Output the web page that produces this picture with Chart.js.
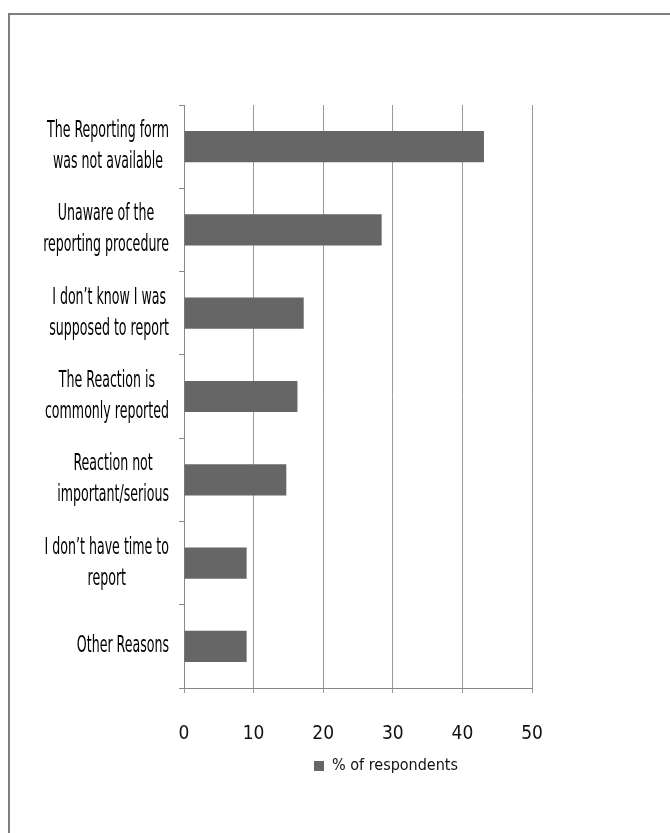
<!DOCTYPE html>
<html><head><meta charset="utf-8">
<script src="https://cdn.jsdelivr.net/npm/chart.js@4/dist/chart.umd.min.js"></script>
<style>
html,body{margin:0;padding:0;background:#fff;overflow:hidden;}
#wrap{position:relative;width:670px;height:833px;}
#frame{position:absolute;left:8px;top:13px;right:-10px;bottom:-10px;border-top:2px solid #7f7f7f;border-left:2px solid #7f7f7f;pointer-events:none;}
canvas{position:absolute;left:0;top:0;}
</style></head><body>
<div id="wrap"><canvas id="c" width="670" height="833"></canvas><div id="frame"></div></div>
<script>
const categories = [
  ["The Reporting form", "was not available"],
  ["Unaware of the", "reporting procedure"],
  ["I don’t know I was", "supposed to report"],
  ["The Reaction is", "commonly reported"],
  ["Reaction not", "important/serious"],
  ["I don’t have time to", "report"],
  ["Other Reasons"]
];
const respondentsPct = [43.1, 28.4, 17.2, 16.3, 14.7, 9.0, 9.0];
const xTicks = [0, 10, 20, 30, 40, 50];
const seriesName = "% of respondents";

const FAMILY = '"Liberation Sans Narrow", "DejaVu Sans Condensed", "Liberation Sans", sans-serif';

const yLabelPlugin = {
  id: 'yLabels',
  afterDraw(chart) {
    const s = chart.scales.y, ctx = chart.ctx;
    ctx.save();
    ctx.font = '23px ' + FAMILY;
    ctx.fillStyle = '#000';
    ctx.textBaseline = 'middle';
    ctx.textAlign = 'center';
    const ref = ctx.measureText('The Reporting form').width;
    const sx = 122 / ref;
    const right = 169, lh = 31;
    categories.forEach((lines, i) => {
      const cy = s.getPixelForValue(i);
      const bw = Math.max(...lines.map(l => ctx.measureText(l).width)) * sx;
      const cx = right - bw / 2;
      lines.forEach((l, j) => {
        const y = cy + (j - (lines.length - 1) / 2) * lh;
        ctx.save(); ctx.translate(cx, y); ctx.scale(sx, 1); ctx.fillText(l, 0, 0); ctx.restore();
      });
    });
    ctx.restore();
  }
};

const legendShift = {
  id: 'legendShift',
  afterLayout(chart) {
    const lg = chart.legend;
    const w = lg.right - lg.left;
    const c = 386;
    lg.left = c - w / 2; lg.right = c + w / 2;
  }
};

new Chart(document.getElementById('c'), {
  type: 'bar',
  data: {
    labels: categories.map(c => c.join(' ')),
    datasets: [{
      label: seriesName,
      data: respondentsPct,
      backgroundColor: '#666666',
      borderWidth: 0,
      barPercentage: 0.375,
      categoryPercentage: 1
    }]
  },
  options: {
    responsive: false,
    animation: false,
    devicePixelRatio: 1,
    indexAxis: 'y',
    layout: { padding: { left: 0, right: 138, top: 105, bottom: 49 } },
    plugins: {
      legend: {
        position: 'bottom',
        labels: { boxWidth: 10, boxHeight: 10, color: '#111', font: { family: FAMILY, size: 16 }, padding: 10 }
      },
      tooltip: { enabled: false }
    },
    scales: {
      x: {
        min: 0, max: 50,
        afterBuildTicks(s) { s.ticks = xTicks.map(v => ({ value: v })); },
        grid: { color: '#9a9a9a', tickLength: 5, lineWidth: 1 },
        border: { color: '#888' },
        ticks: { color: '#111', font: { family: FAMILY, size: 19 }, padding: 30 },
        afterFit(s) { s.height = 60; }
      },
      y: {
        grid: { drawOnChartArea: false, tickLength: 5, color: '#888', offset: true },
        border: { color: '#888' },
        ticks: { display: false },
        afterFit(s) { s.width = 184; }
      }
    }
  },
  plugins: [yLabelPlugin, legendShift]
});
</script>
</body></html>
